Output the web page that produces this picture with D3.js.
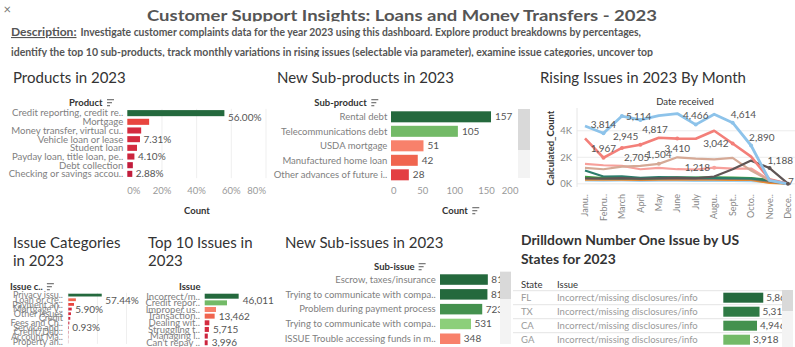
<!DOCTYPE html>
<html><head><meta charset="utf-8">
<script src="https://cdn.jsdelivr.net/npm/d3@7"></script>
<style>
html,body{margin:0;padding:0;background:#fff;overflow:hidden}
svg{display:block;font-family:Lato, "Noto Sans", sans-serif}
</style></head><body>
<svg id="c" width="795" height="347"></svg>
<script>
// ---------------- DATA ----------------
const titleText = "Customer Support Insights: Loans and Money Transfers - 2023";
const descLabel = "Description:";
const descLine1 = "Investigate customer complaints data for the year 2023 using this dashboard. Explore product breakdowns by percentages,";
const descLine2 = "identify the top 10 sub-products, track monthly variations in rising issues (selectable via parameter), examine issue categories, uncover top";

const products = ["Credit reporting, credit re..","Mortgage","Money transfer, virtual cu..","Vehicle loan or lease","Student loan","Payday loan, title loan, pe..","Debt collection","Checking or savings accou.."];
const productShare = [56.00, 12.6, 8.0, 7.31, 5.6, 4.10, 3.2, 2.88];
const productShown = [true,false,false,true,false,true,false,true];
const productTicks = [0,20,40,60,80];

const subProducts = ["Rental debt","Telecommunications debt","USDA mortgage","Manufactured home loan","Other advances of future i.."];
const subProductCounts = [157,105,51,42,28];
const subProductTicks = [0,50,100,150,200];

const months = ["Janu..","Febru..","March","April","May","June","July","Augu..","Sept..","Octo..","Nove..","Dece.."];
const risingYTicks = [0,2000,4000];
const sBlue   = [4360,3814,5114,4817,5150,5300,4466,5250,4614,2890,250,0];
const sRed    = [3430,1967,2705,2945,3480,3410,3400,4000,3042,2050,340,0];
const sTan    = [1200,1100,1300,1350,1504,2000,1900,1850,1950,1000,250,0];
const sPink   = [1500,1400,1350,1100,1200,1100,1080,1218,1150,1150,300,0];
const sGray   = [420,400,430,380,420,450,420,550,1100,1750,1188,7];
const sTeal   = [1000,550,560,450,500,480,450,450,420,400,250,0];
const sGreen  = [520,430,450,400,430,460,470,480,470,430,300,0];
const sBrown  = [380,360,380,350,370,380,360,370,360,340,150,0];
const sOrange = [300,300,310,290,300,320,300,300,290,280,60,0];
const sLtBlue = [250,230,240,220,230,230,220,220,210,200,100,0];
// labelled points: series, month index, placement keyword
const risingLabels = [
  ["blue",1,"above"],["blue",2,"right"],["blue",3,"belowRight"],["blue",6,"above"],["blue",8,"aboveRight"],["blue",9,"aboveRight"],
  ["red",1,"above"],["red",2,"belowRight"],["red",3,"aboveLeft"],["red",5,"below"],["red",8,"left"],
  ["tan",4,"above"],["pink",7,"left"],["gray",10,"aboveRight"],["gray",11,"at"]
];

const issueCats = ["Privacy issu..","Loan or cre..","Payment an..","Mortgage V..","Other issues","Credit","Fees and Ch..","Service and..","Credit/Deb..","Account Ma..","Property an.."];
const issueCatShare = [57.44,13.0,9.8,5.90,4.6,3.4,1.8,0.93,0.6,0.4,0.2];
const issueCatShown = [true,false,false,true,false,false,false,true,false,false,false];
const issueCatGrid = [0,50,100];

const topIssues = ["Incorrect/m..","Credit repor..","Improper us..","Transaction..","Dealing wit..","Struggling t..","Managing l..","Can't repay .."];
const topIssueCounts = [46011,30200,15300,13462,6300,5715,4200,3996];
const topIssueShown = [true,false,false,true,false,true,false,true];

const subIssues = ["Escrow, taxes/insurance","Trying to communicate with compa..","Problem during payment process","Trying to communicate with compa..","ISSUE Trouble accessing funds in m.."];
const subIssueCounts = [819,812,723,531,348];

const states = ["FL","TX","CA","GA"];
const stateIssue = ["Incorrect/missing disclosures/info","Incorrect/missing disclosures/info","Incorrect/missing disclosures/info","Incorrect/missing disclosures/info"];
const stateCounts = [5862,5314,4946,3918];

// ---------------- STYLE ----------------
const G1="#24693d", G2="#2e7a44", G3="#44914e", G4="#73ba67", G5="#8ccf7a";
const S1="#f8816b", S2="#f0654f", R1="#e8453f", C1="#d42b3f", C2="#cc243d", C3="#c11d3c";
const seriesStyle = {
  ltblue:{c:"#9fd0f0",w:2,data:sLtBlue}, orange:{c:"#f28e2b",w:2,data:sOrange}, brown:{c:"#9c755f",w:2,data:sBrown},
  green:{c:"#3fa142",w:2.2,data:sGreen}, teal:{c:"#2b7d6b",w:2.2,data:sTeal}, pink:{c:"#f7a09b",w:2.2,data:sPink},
  tan:{c:"#d5a996",w:2.2,data:sTan}, gray:{c:"#5f5555",w:2.2,data:sGray}, red:{c:"#f37f79",w:2.6,data:sRed},
  blue:{c:"#8dc3ea",w:2.8,data:sBlue}
};

const svg = d3.select("#c");
const W=795,H=347;
const defs = svg.append("defs");
function clip(id,x,y,w,h){defs.append("clipPath").attr("id",id).append("rect").attr("x",x).attr("y",y).attr("width",w).attr("height",h);}
clip("cTitle",0,0,W,21.6);
clip("cDesc",0,24,W,33);
clip("cRise",525,95,W-525,127);

// close mark
svg.append("text").attr("x",7.3).attr("y",9).attr("dy","0.35em").attr("text-anchor","middle").style("font-size","13px").style("fill","#777").text("×");

// title
svg.append("g").attr("clip-path","url(#cTitle)").append("text").attr("x",147).attr("y",20.7)
  .attr("textLength",510).attr("lengthAdjust","spacingAndGlyphs")
  .style("font-size","15.8px").style("font-weight","700").style("fill","#555").text(titleText);

// description
const dg = svg.append("g").attr("clip-path","url(#cDesc)");
const dstyle = s=>s.style("font-size","11px").style("font-weight","700").style("fill","#555").attr("lengthAdjust","spacingAndGlyphs");
dg.append("text").attr("x",11).attr("y",36).attr("textLength",65.5).call(dstyle).style("text-decoration","underline").text(descLabel);
dg.append("text").attr("x",80.5).attr("y",36).attr("textLength",560.5).call(dstyle).text(descLine1);
dg.append("text").attr("x",11).attr("y",56).attr("textLength",642).call(dstyle).text(descLine2);

function sectionTitle(lines,x,y0,opts={}){
  const t=svg.append("text").attr("x",x).attr("y",y0).style("font-size",(opts.size||15)+"px").style("fill","#333").style("font-weight",opts.bold?"700":"400");
  lines.forEach((l,i)=>t.append("tspan").attr("x",x).attr("dy",i?(opts.lh||18):0).text(l));
  return t;
}
function sortIcon(x,y){
  const g=svg.append("g").attr("stroke","#666").attr("stroke-width",1.1);
  [[7,-3],[5,0],[3,3]].forEach(([l,dy])=>g.append("line").attr("x1",x).attr("x2",x+l).attr("y1",y+dy).attr("y2",y+dy));
}
function header(txt,x,y,icon,opts={}){
  const t=svg.append("text").attr("x",x).attr("y",y).attr("dy","0.35em").attr("text-anchor",opts.anchor||"start")
    .style("font-size","9.5px").style("font-weight",opts.normal?"400":"700").style("fill","#333").text(txt);
  if(icon){const bb=t.node().getBBox(); sortIcon(bb.x+bb.width+4,y);}
  return t;
}
function scrollbar(x,y0,y1,t1,w){
  svg.append("rect").attr("x",x).attr("y",y0).attr("width",w).attr("height",y1-y0).attr("fill","#f3f3f3");
  svg.append("rect").attr("x",x).attr("y",y0).attr("width",w).attr("height",t1-y0).attr("fill","#d9d9d9");
}

function hbar(cfg){
  const n=cfg.values.length;
  const y=d3.scaleBand().domain(d3.range(n)).range(cfg.yr).paddingInner(cfg.pi).paddingOuter(cfg.po);
  const x=d3.scaleLinear().domain(cfg.dom).range(cfg.xr);
  const g=svg.append("g");
  if(cfg.grid){
    g.selectAll("line.gr").data(cfg.grid).join("line").attr("x1",d=>x(d)).attr("x2",d=>x(d))
      .attr("y1",cfg.yr[0]).attr("y2",cfg.yr[1]).attr("stroke","#efefef").attr("stroke-width",1);
  }
  if(cfg.names){
    g.selectAll("text.nm").data(cfg.names).join("text").attr("x",cfg.nameX).attr("y",(d,i)=>y(i)+y.bandwidth()/2)
      .attr("dy","0.35em").attr("text-anchor","end").style("font-size",(cfg.nameSize||9)+"px").style("fill",cfg.nameColor||"#808080").text(d=>d);
  }
  g.selectAll("rect.b").data(cfg.values).join("rect").attr("x",x(0)).attr("y",(d,i)=>y(i))
    .attr("width",d=>x(d)-x(0)).attr("height",y.bandwidth()).attr("fill",(d,i)=>cfg.colors[i]);
  g.selectAll("text.v").data(cfg.values).join("text")
    .attr("x",d=>x(d)+(cfg.labGap||3.5)).attr("y",(d,i)=>y(i)+y.bandwidth()/2+(i===0&&cfg.firstShift?cfg.firstShift:0))
    .attr("dy","0.35em").style("font-size",(cfg.labSize||10)+"px").style("fill","#555")
    .text((d,i)=>(!cfg.shown||cfg.shown[i])?cfg.fmt(d):"");
  if(cfg.ticks){
    g.selectAll("text.t").data(cfg.ticks).join("text").attr("x",d=>x(d)).attr("y",cfg.tickY).attr("dy","0.35em")
      .attr("text-anchor",(d,i)=>i===0?"start":(i===cfg.ticks.length-1?"end":"middle"))
      .style("font-size","9.5px").style("fill","#999").text(cfg.tickFmt);
  }
  return {x,y,g};
}

// ---------- Products ----------
sectionTitle(["Products in 2023"],13,83.3);
header("Product",69,102.7,true);
hbar({values:productShare,names:products,nameX:123.3,nameSize:9.6,yr:[108.8,178.2],pi:0.3,po:0.15,dom:[0,80],xr:[127.3,266],
  colors:[G1,R1,C1,C1,C1,C2,C3,C3],shown:productShown,fmt:d=>d3.format(".2f")(d)+"%",firstShift:4.5,
  grid:productTicks.slice(1),ticks:productTicks,tickY:190.7,tickFmt:d=>d+"%"});
header("Count",197,210.7,false,{anchor:"middle"});

// ---------- Sub-products ----------
sectionTitle(["New Sub-products in 2023"],277,83.3);
header("Sub-product",314.3,102.7,true);
hbar({values:subProductCounts,names:subProducts,nameX:387.3,nameSize:9.5,yr:[109.56,182.06],pi:0.24,po:0.12,dom:[0,200],xr:[391,518.4],
  colors:[G1,G4,S1,S2,"#e33f43"],fmt:d3.format(","),labGap:4,
  ticks:subProductTicks,tickY:190.7,tickFmt:d=>d});
header("Count",442,210.7,true);
scrollbar(518,109,178,150,12);

// ---------- Rising issues ----------
sectionTitle(["Rising Issues in 2023 By Month"],540,83.3);
header("Date received",685,102,false,{anchor:"middle",normal:true});
const rx=d3.scalePoint().domain(d3.range(months.length)).range([585,788]);
const ry=d3.scaleLinear().domain([0,5720]).range([183.8,108]);
const rg=svg.append("g");
rg.selectAll("line.gy").data(risingYTicks).join("line").attr("x1",577).attr("x2",W).attr("y1",d=>ry(d)).attr("y2",d=>ry(d)).attr("stroke","#ececec");
rg.append("line").attr("x1",577).attr("x2",577).attr("y1",108).attr("y2",187).attr("stroke","#e6e6e6");
rg.selectAll("text.yt").data(risingYTicks).join("text").attr("x",572).attr("y",d=>ry(d)).attr("dy","0.35em").attr("text-anchor","end")
  .style("font-size","9.5px").style("fill","#888").text(d=>(d/1000)+"K");
svg.append("text").attr("transform","translate(551,148) rotate(-90)").attr("text-anchor","middle").attr("dy","0.35em")
  .style("font-size","9.5px").style("font-weight","700").style("fill","#333").text("Calculated_Count");
const rc=svg.append("g").attr("clip-path","url(#cRise)");
const line=d3.line().x((d,i)=>rx(i)).y(d=>ry(d));
Object.keys(seriesStyle).forEach(k=>{
  const s=seriesStyle[k];
  rc.append("path").attr("d",line(s.data)).attr("fill","none").attr("stroke",s.c).attr("stroke-width",s.w).attr("stroke-linejoin","round");
});
const off={above:[0,-9,"middle"],below:[0,10,"middle"],left:[-4,0,"end"],right:[4,0,"start"],
  aboveRight:[-2,-8,"start"],belowRight:[2,10,"start"],aboveLeft:[-2,-8,"end"],at:[0,-2.5,"start"]};
risingLabels.forEach(([k,m,p])=>{
  const s=seriesStyle[k], v=s.data[m], o=off[p];
  rc.append("circle").attr("cx",rx(m)).attr("cy",ry(v)).attr("r",2).attr("fill",s.c);
  rc.append("text").attr("x",rx(m)+o[0]).attr("y",ry(v)+o[1]).attr("dy","0.35em").attr("text-anchor",o[2])
    .style("font-size","10px").style("fill","#555").text(d3.format(",")(v));
});
rc.selectAll("text.mo").data(months).join("text").attr("transform",(d,i)=>`translate(${rx(i)},194) rotate(-90)`)
  .attr("text-anchor","end").attr("dy","0.35em").style("font-size","9px").style("fill","#888").text(d=>d);

// ---------- Issue categories ----------
sectionTitle(["Issue Categories","in 2023"],13,247.7);
header("Issue c..",10,286.7,true);
hbar({values:issueCatShare,names:issueCats,nameX:63,nameSize:9,yr:[292.77,343.92],pi:0.4,po:0.2,dom:[0,100],xr:[68.3,126.5],
  colors:[G1,S2,R1,C1,C1,C2,C2,C3,C3,C3,C3],shown:issueCatShown,fmt:d=>d3.format(".2f")(d)+"%",firstShift:5,
  grid:issueCatGrid});

// ---------- Top 10 issues ----------
sectionTitle(["Top 10 Issues in","2023"],148,247.7);
header("Issue",179,286.7,false);
hbar({values:topIssueCounts,names:topIssues,nameX:200,nameSize:9.5,yr:[292.87,346.07],pi:0.25,po:0.125,dom:[0,50000],xr:[204.7,241.6],
  colors:[G1,G4,S1,S2,C1,C1,C2,C2],shown:topIssueShown,fmt:d3.format(","),labGap:4,firstShift:4.5});

// ---------- Sub-issues ----------
sectionTitle(["New Sub-issues in 2023"],285,247.7);
header("Sub-issue",374,266.7,true);
hbar({values:subIssueCounts,names:subIssues,nameX:435.7,nameSize:9.5,yr:[272.15,346.15],pi:0.29,po:0.145,dom:[0,1000],xr:[440,498.4],
  colors:[G1,G1,G3,G5,S1],fmt:d3.format(","),labGap:3.5});
scrollbar(500,271.7,344,299,11);

// ---------- Drilldown ----------
sectionTitle(["Drilldown Number One Issue by US","States for 2023"],521,245,{size:13.9,bold:true,lh:19});
header("State",521,284.3,false,{normal:true});
header("Issue",557,284.3,false,{normal:true});
const dd=hbar({values:stateCounts,yr:[290.7,346.7],pi:0.286,po:0.143,dom:[0,6000],xr:[723.3,764.2],
  colors:[G1,G2,G3,G4],fmt:d3.format(","),labGap:3});
const ddy=dd.y;
svg.insert("g",":first-child").selectAll("line").data(d3.range(states.length)).join("line")
  .attr("x1",513).attr("x2",782).attr("y1",i=>ddy(i)-ddy.step()*ddy.paddingInner()/2).attr("y2",i=>ddy(i)-ddy.step()*ddy.paddingInner()/2)
  .attr("stroke","#e4e4e4");
svg.selectAll("text.st").data(states).join("text").attr("x",521).attr("y",(d,i)=>ddy(i)+ddy.bandwidth()/2).attr("dy","0.35em")
  .style("font-size","9.5px").style("fill","#9a9a9a").text(d=>d);
svg.selectAll("text.si").data(stateIssue).join("text").attr("x",557).attr("y",(d,i)=>ddy(i)+ddy.bandwidth()/2).attr("dy","0.35em")
  .style("font-size","9.5px").style("fill","#9a9a9a").text(d=>d);
scrollbar(782,290,347,311,11);
</script>
</body></html>
